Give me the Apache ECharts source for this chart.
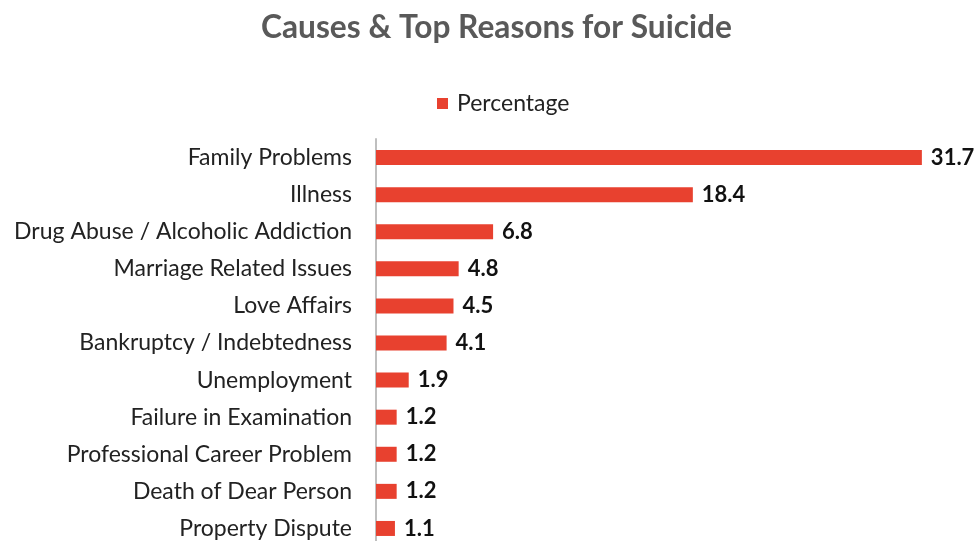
<!DOCTYPE html>
<html><head><meta charset="utf-8">
<script src="https://cdn.jsdelivr.net/npm/echarts@6/dist/echarts.min.js"></script>
<style>html,body{margin:0;padding:0;background:#fff}#c{width:980px;height:541px}</style>
</head><body><div id="c"></div>
<script>
const categories = ["Family Problems","Illness","Drug Abuse / Alcoholic Addiction","Marriage Related Issues","Love Affairs","Bankruptcy / Indebtedness","Unemployment","Failure in Examination","Professional Career Problem","Death of Dear Person","Property Dispute"];
const percentage = [31.7,18.4,6.8,4.8,4.5,4.1,1.9,1.2,1.2,1.2,1.1];
const FONT = "Lato";
const chart = echarts.init(document.getElementById('c'));
chart.setOption({
  animation:false,
  title:{text:"Causes & Top Reasons for Suicide",left:256,top:7,
    textStyle:{fontFamily:FONT,fontSize:31.7,fontWeight:'bold',color:'#595959'}},
  legend:{top:87,left:432,itemWidth:11,itemHeight:11,icon:'rect',itemGap:10,
    textStyle:{fontFamily:FONT,fontSize:23,color:'#222',padding:[0,0,0,4]}},
  grid:{left:376,top:139,width:602.7,height:408,containLabel:false,outerBoundsMode:'none'},
  xAxis:{type:'value',min:0,max:35,show:false},
  yAxis:{type:'category',data:categories,inverse:true,
    axisLine:{show:true,lineStyle:{color:'#bfbfbf',width:2}},
    axisTick:{show:false},
    axisLabel:{fontFamily:FONT,fontSize:23,color:'#222',margin:24}},
  series:[{name:'Percentage',type:'bar',data:percentage,barWidth:15,
    itemStyle:{color:'#E8412F'},
    label:{show:true,position:'right',distance:9,fontFamily:FONT,fontSize:22,fontWeight:'bold',color:'#111'}}]
});
</script></body></html>
